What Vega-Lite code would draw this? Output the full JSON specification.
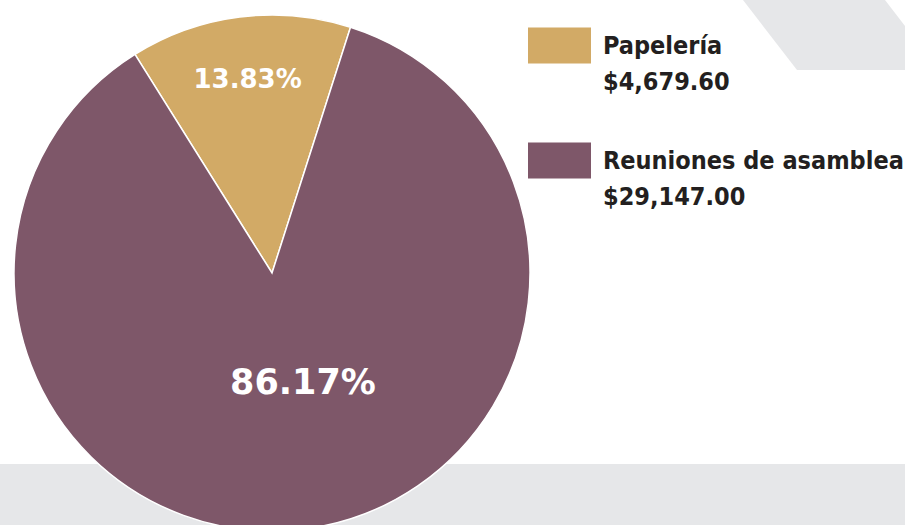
{
  "$schema": "https://vega.github.io/schema/vega-lite/v6.json",
  "width": 905,
  "height": 525,
  "autosize": {"type": "none"},
  "padding": 0,
  "background": "white",
  "config": {"view": {"stroke": null}, "style": {"guide-label": {"lineHeight": 36}}},
  "datasets": {
    "slices": [
      {"categoria": "Papelería", "monto": 4679.60, "pct": "13.83%", "orden": 1},
      {"categoria": "Reuniones de asamblea", "monto": 29147.00, "pct": "86.17%", "orden": 2}
    ],
    "fondo": [
      {"forma": "banda", "x": 0, "y": 464, "y2": 525},
      {"forma": "banda", "x": 905, "y": 464, "y2": 525},
      {"forma": "paralelo", "x": 743, "y": 0, "y2": 0},
      {"forma": "paralelo", "x": 797, "y": 0, "y2": 70},
      {"forma": "paralelo", "x": 885, "y": 0, "y2": 70},
      {"forma": "paralelo", "x": 905, "y": 26, "y2": 70}
    ]
  },
  "resolve": {"scale": {"theta": "independent"}},
  "layer": [
    {
      "data": {"name": "fondo"},
      "mark": {"type": "area", "color": "#e6e7e9", "interpolate": "linear"},
      "encoding": {
        "x": {"field": "x", "type": "quantitative", "scale": {"domain": [0, 905], "nice": false, "zero": false}, "axis": null},
        "y": {"field": "y", "type": "quantitative", "scale": {"domain": [0, 525], "nice": false, "reverse": true}, "axis": null},
        "y2": {"field": "y2"},
        "detail": {"field": "forma"}
      }
    },
    {
      "data": {"name": "slices"},
      "transform": [
        {"calculate": "datum.categoria + '|$' + format(datum.monto, ',.2f')", "as": "leyenda"}
      ],
      "layer": [
        {
          "mark": {"type": "arc", "x": 272, "y": 273, "outerRadius": 258, "stroke": "white", "strokeWidth": 1.5},
          "encoding": {
            "theta": {"field": "monto", "type": "quantitative", "stack": true, "scale": {"range": [-0.56, 5.7232]}},
            "order": {"field": "orden", "type": "quantitative"},
            "color": {
              "field": "leyenda", "type": "nominal",
              "scale": {"range": ["#D2AA66", "#7E5769"]},
              "legend": {
                "title": null,
                "orient": "none",
                "legendX": 528,
                "legendY": 14,
                "labelExpr": "split(datum.label, '|')",
                "labelFont": "DejaVu Sans Condensed",
                "labelFontSize": 25,
                "labelFontWeight": "bold",
                "labelColor": "#231f20",
                "labelLimit": 0,
                "labelBaseline": "middle",
                "labelOffset": 12,
                "symbolType": "M-1,-0.571H1V0.571H-1Z",
                "symbolSize": 3969,
                "symbolStrokeWidth": 0,
                "symbolOpacity": 1,
                "rowPadding": 34
              }
            }
          }
        },
        {
          "transform": [{"filter": "datum.orden == 1"}],
          "mark": {"type": "text", "x": 272, "y": 273, "radius": 195, "font": "DejaVu Sans", "fontWeight": "bold", "fontSize": 26, "color": "white", "align": "center", "baseline": "middle"},
          "encoding": {
            "theta": {"field": "monto", "type": "quantitative", "stack": true, "scale": {"domain": [0, 33826.6], "range": [-0.56, 5.7232]}},
            "text": {"field": "pct"}
          }
        },
        {
          "transform": [{"filter": "datum.orden == 2"}],
          "mark": {"type": "text", "x": 272, "y": 273, "radius": 0, "dx": 31, "dy": 110, "font": "DejaVu Sans", "fontWeight": "bold", "fontSize": 35, "color": "white", "align": "center", "baseline": "middle"},
          "encoding": {
            "text": {"field": "pct"}
          }
        }
      ]
    }
  ]
}
